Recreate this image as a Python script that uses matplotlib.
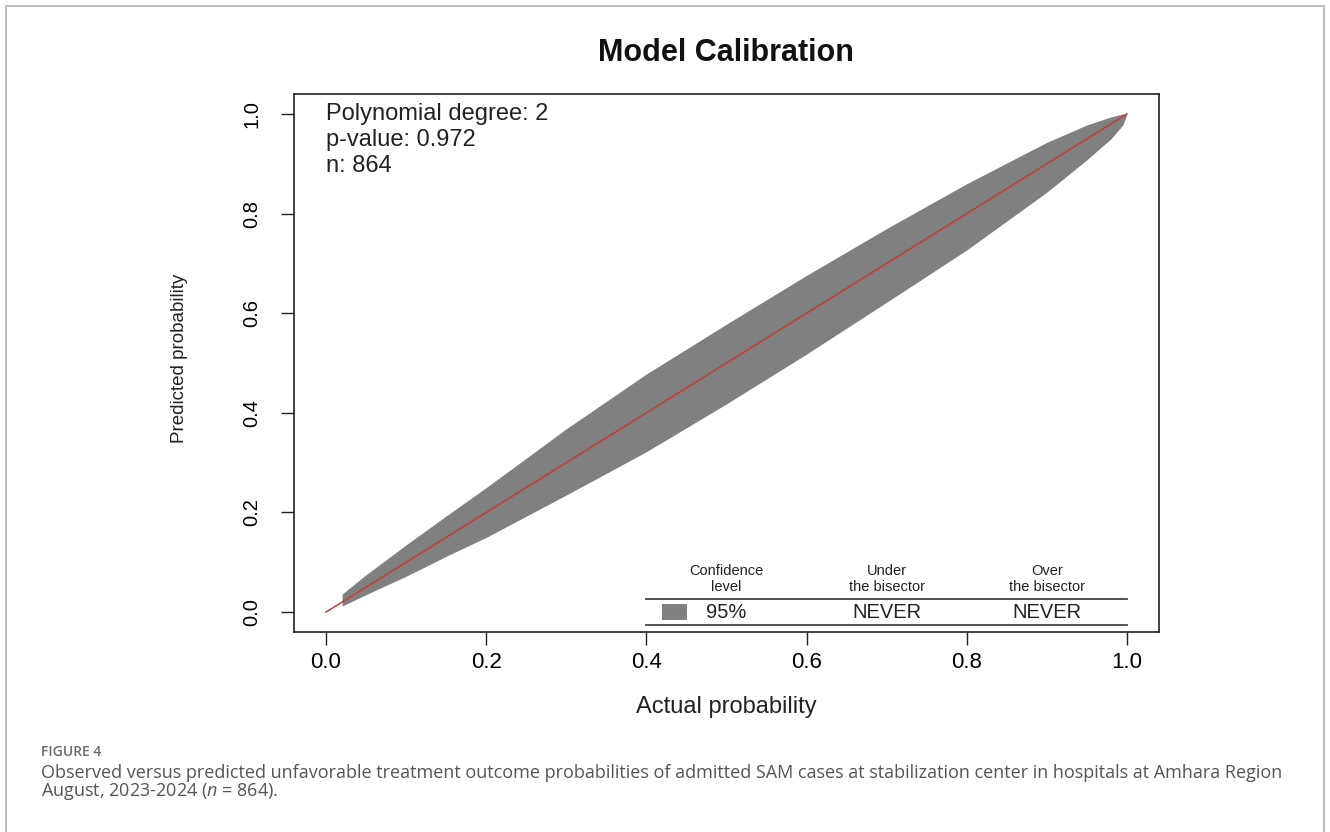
import matplotlib
matplotlib.use("Agg")
import matplotlib.pyplot as plt
from matplotlib.patches import Rectangle
import numpy as np

plt.rcParams['font.family'] = ['Liberation Sans', 'DejaVu Sans']
plt.rcParams['mathtext.fontset'] = 'custom'
plt.rcParams['mathtext.it'] = 'Open Sans:italic'
plt.rcParams['mathtext.rm'] = 'Open Sans'

# calibration belt (95%)
belt_x = [0.02, 0.05, 0.10, 0.15, 0.20, 0.30, 0.40, 0.50, 0.60, 0.70, 0.80, 0.90, 0.95, 0.98, 0.995, 1.00]
belt_lower = [0.012, 0.035, 0.072, 0.112, 0.150, 0.235, 0.322, 0.418, 0.518, 0.622, 0.727, 0.843, 0.908, 0.950, 0.978, 1.00]
belt_upper = [0.036, 0.075, 0.135, 0.193, 0.250, 0.368, 0.478, 0.578, 0.676, 0.770, 0.860, 0.943, 0.978, 0.994, 1.000, 1.00]

bisector = [0.0, 1.0]

stats_lines = ["Polynomial degree: 2", "p-value: 0.972", "n: 864"]
table_header = ["Confidence\nlevel", "Under\nthe bisector", "Over\nthe bisector"]
table_row = ["95%", "NEVER", "NEVER"]

ticks = [0.0, 0.2, 0.4, 0.6, 0.8, 1.0]

fig = plt.figure(figsize=(13.3, 8.32), dpi=100)
ax = fig.add_axes([294/1330, 1-632/832, 865/1330, 538/832])

ax.fill_between(belt_x, belt_lower, belt_upper, color='#808080', lw=0)
ax.plot(bisector, bisector, color='#c0403c', lw=1.1)

ax.set_xlim(-0.04, 1.04)
ax.set_ylim(-0.04, 1.04)
ax.set_xticks(ticks)
ax.set_yticks(ticks)
ax.set_xticklabels(["%.1f" % t for t in ticks], fontsize=16)
ax.set_yticklabels(["%.1f" % t for t in ticks], fontsize=14.5, rotation=90, va='center')
ax.tick_params(axis='x', length=9.5, width=1, pad=5, color='#222222')
ax.tick_params(axis='y', length=9.5, width=1, pad=14, color='#222222')
for s in ax.spines.values():
    s.set_linewidth(1.2)
    s.set_color('#222222')

# stats text
for i, t in enumerate(stats_lines):
    ax.text(0.0, 1.0 - i*0.052, t, fontsize=17, ha='left', va='center', color='#222222')

# legend table
col_x = [0.50, 0.70, 0.90]
for cx, h in zip(col_x, table_header):
    ax.text(cx, 0.067, h, fontsize=10.5, ha='center', va='center', color='#222222',
            linespacing=1.15)
ax.plot([0.40, 1.0], [0.026, 0.026], color='#444444', lw=1.3)
ax.plot([0.40, 1.0], [-0.026, -0.026], color='#444444', lw=1.3)
ax.add_patch(Rectangle((0.42, -0.016), 0.031, 0.032, color='#808080', lw=0))
for cx, r in zip(col_x, table_row):
    ax.text(cx, 0.0, r, fontsize=14.5, ha='center', va='center', color='#222222')

fig.text(726/1330, 1-53/832, "Model Calibration", fontsize=22, fontweight='bold',
         ha='center', va='center', color='#111111')
fig.text(726/1330, 1-707/832, "Actual probability", fontsize=17, ha='center', va='center',
         color='#222222')
fig.text(180/1330, 1-358/832, "Predicted probability", fontsize=13.5, ha='center',
         va='center', rotation=90, color='#222222')

# caption
fig.text(41/1330, 1-752/832, "FIGURE 4", fontsize=10, fontweight='semibold',
         family='Open Sans', color='#6a6a6a', ha='left', va='center')
fig.text(41/1330, 1-773/832,
         "Observed versus predicted unfavorable treatment outcome probabilities of admitted SAM cases at stabilization center in hospitals at Amhara Region",
         fontsize=13, family='Open Sans', color='#555555', ha='left', va='center')
fig.text(41/1330, 1-792/832, "August, 2023-2024 ($n$ = 864).",
         fontsize=13, family='Open Sans', color='#555555', ha='left', va='center')

fig.add_artist(Rectangle((6/1330, -0.05), 1318/1330, 1.05 - 6/832, transform=fig.transFigure,
                         fill=False, edgecolor='#bdbdbd', lw=1.5))

fig.savefig("out.png", dpi=100)
